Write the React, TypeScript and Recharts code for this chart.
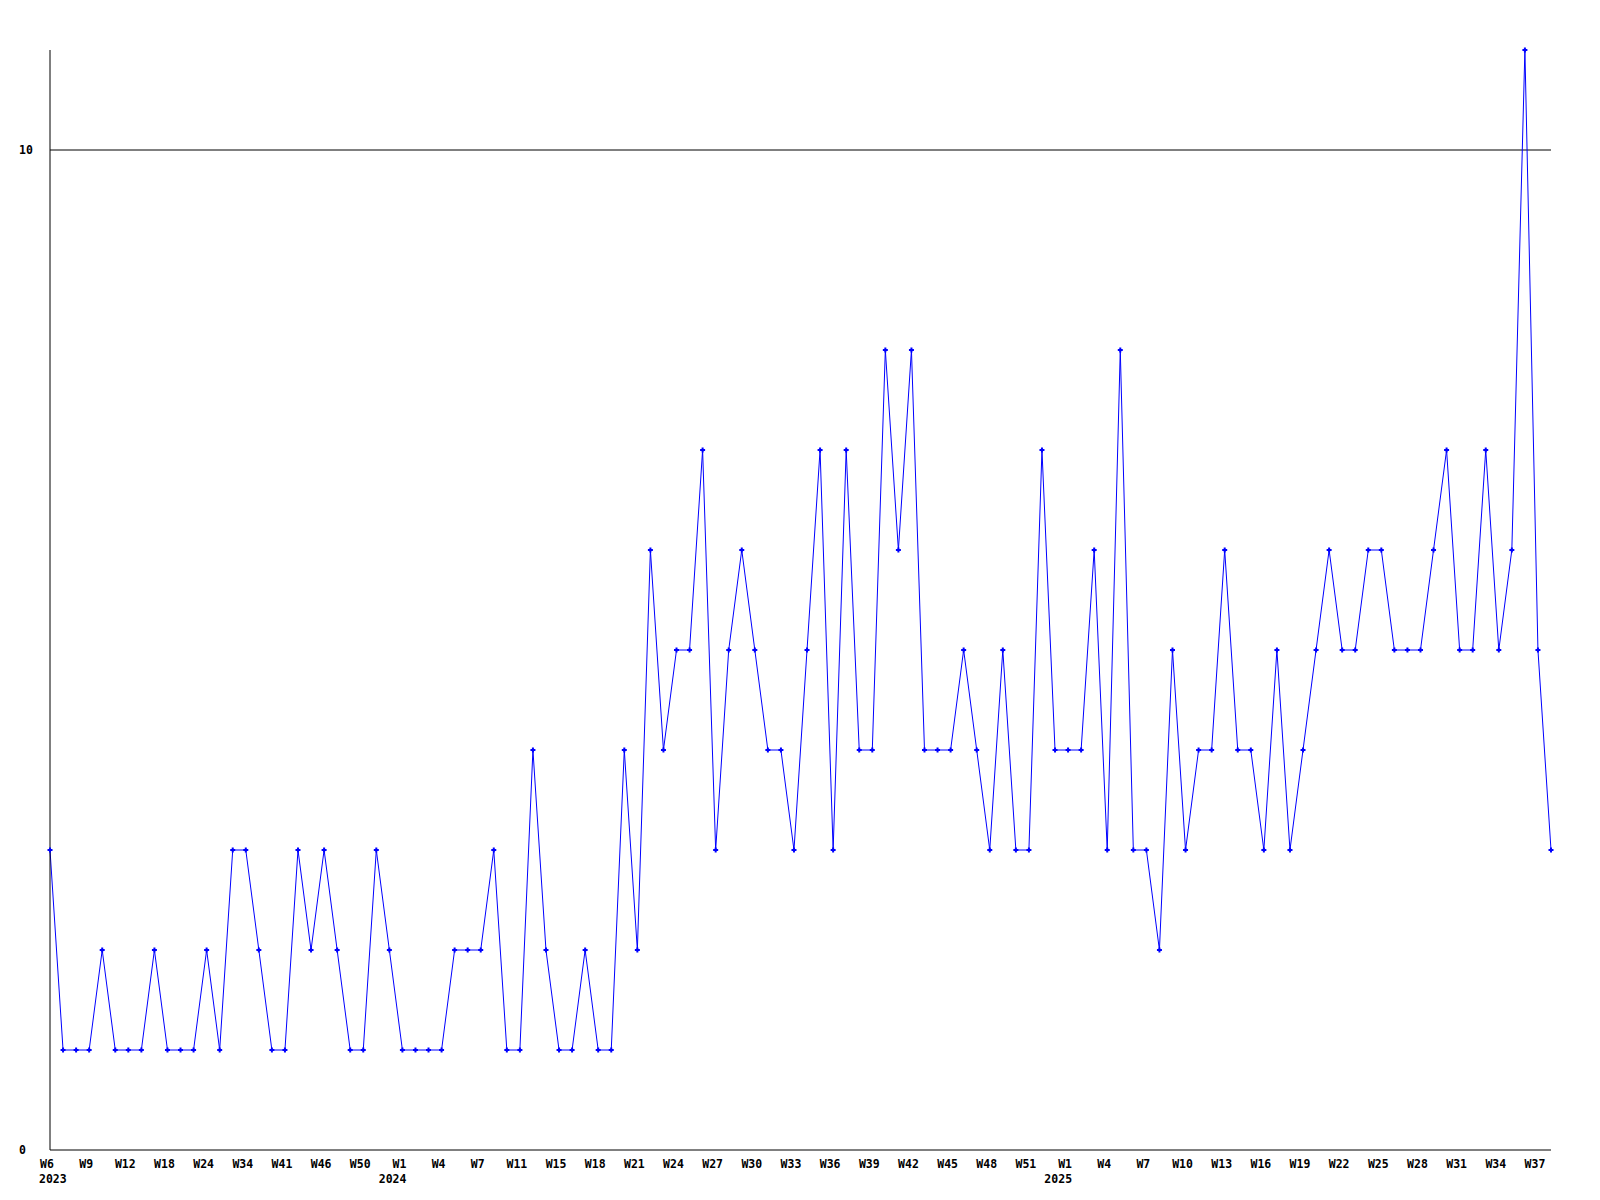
import React from 'react';
import { LineChart, Line, XAxis, YAxis, ReferenceLine } from 'recharts';

const weeks: string[] = [
  'W6','W7','W8','W9','W10','W11','W12','W14','W16','W18','W20','W22','W24','W28','W31','W34','W36','W38','W41','W43','W45','W46','W47','W49','W50','W51','W52',
  'W1','W2','W3','W4','W5','W6','W7','W8','W10','W11','W12','W14','W15','W16','W17','W18','W19','W20','W21','W22','W23','W24','W25','W26','W27','W28','W29','W30','W31','W32','W33','W34','W35','W36','W37','W38','W39','W40','W41','W42','W43','W44','W45','W46','W47','W48','W49','W50','W51','W52','W53',
  'W1','W2','W3','W4','W5','W6','W7','W8','W9','W10','W11','W12','W13','W14','W15','W16','W17','W18','W19','W20','W21','W22','W23','W24','W25','W26','W27','W28','W29','W30','W31','W32','W33','W34','W35','W36','W37','W38',
];

const yearMarks = [
  { at: 0, year: '2023' },
  { at: 27, year: '2024' },
  { at: 78, year: '2025' },
];

const values: number[] = [
  3,1,1,1,2,1,1,1,2,1,
  1,1,2,1,3,3,2,1,1,3,
  2,3,2,1,1,3,2,1,1,1,
  1,2,2,2,3,1,1,4,2,1,
  1,2,1,1,4,2,6,4,5,5,
  7,3,5,6,5,4,4,3,5,7,
  3,7,4,4,8,6,8,4,4,4,
  5,4,3,5,3,3,7,4,4,4,
  6,3,8,3,3,2,5,3,4,4,
  6,4,4,3,5,3,4,5,6,5,
  5,6,6,5,5,5,6,7,5,5,
  7,5,6,11,5,3,
];

const yTicks = [0, 10];
const xTicks = weeks.map((_, i) => i).filter((i) => i % 3 === 0);

const data = values.map((v, i) => ({ idx: i, week: weeks[i], value: v }));

const FONT = '"DejaVu Sans Mono", "Liberation Mono", monospace';

const XTick = (props: any) => {
  const { x, y, payload } = props;
  const i = payload.value as number;
  const ym = yearMarks.find((m) => m.at === i);
  const first = i === 0;
  return (
    <g>
      <text x={x - 3} y={y + 18} textAnchor="middle" fontFamily={FONT} fontWeight="bold" fontSize={11.5} fill="#000">
        {weeks[i]}
      </text>
      {ym ? (
        <text
          x={first ? x - 11 : x + 4}
          y={y + 33}
          textAnchor={first ? 'start' : 'end'}
          fontFamily={FONT}
          fontWeight="bold"
          fontSize={11.5}
          fill="#000"
        >
          {ym.year}
        </text>
      ) : null}
    </g>
  );
};

const YTick = (props: any) => {
  const { x, y, payload } = props;
  return (
    <text x={x - 31} y={y + 4} textAnchor="start" fontFamily={FONT} fontWeight="bold" fontSize={11.5} fill="#000">
      {payload.value}
    </text>
  );
};

const Dot = (props: any) => {
  const { cx, cy } = props;
  if (cx == null || cy == null) return null;
  return (
    <g>
      <rect x={cx - 2.5} y={cy - 1} width={5} height={2} fill="#0000ff" />
      <rect x={cx - 1} y={cy - 2.5} width={2} height={5} fill="#0000ff" />
    </g>
  );
};

export default function App() {
  return (
    <div style={{ position: 'absolute', left: 0, top: 0, width: 1600, height: 1200, background: '#fff' }}>
      <LineChart width={1600} height={1200} data={data} margin={{ top: 50, right: 49, bottom: 0, left: 0 }}>
        <XAxis
          dataKey="idx"
          type="number"
          domain={[0, values.length - 1]}
          ticks={xTicks}
          interval={0}
          height={50}
          tickLine={false}
          tickSize={0}
          tickMargin={0}
          axisLine={{ stroke: '#000', strokeWidth: 1 }}
          tick={<XTick />}
        />
        <YAxis
          type="number"
          domain={[0, 11]}
          ticks={yTicks}
          width={50}
          tickLine={false}
          tickSize={0}
          tickMargin={0}
          axisLine={{ stroke: '#000', strokeWidth: 1 }}
          tick={<YTick />}
        />
        <ReferenceLine y={10} stroke="#000" strokeWidth={1} />
        <Line
          type="linear"
          dataKey="value"
          stroke="#0000ff"
          strokeWidth={1}
          dot={<Dot />}
          activeDot={false}
          isAnimationActive={false}
        />
      </LineChart>
    </div>
  );
}
